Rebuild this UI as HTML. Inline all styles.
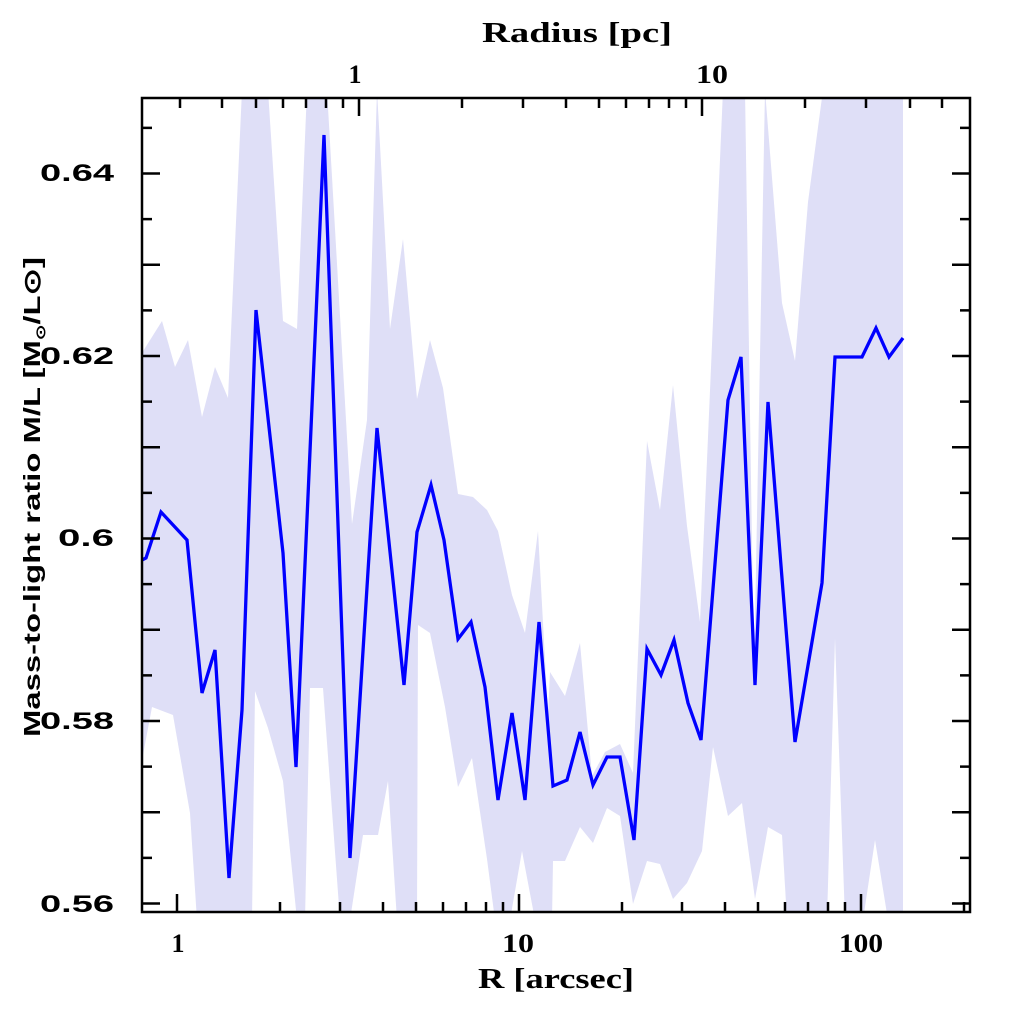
<!DOCTYPE html>
<html><head><meta charset="utf-8"><style>html,body{margin:0;padding:0;background:#fff}svg{display:block}text{font-family:"Liberation Serif",serif;font-weight:bold;fill:#000}.s{font-family:"Liberation Sans",sans-serif}</style></head>
<body>
<svg width="1024" height="1024" viewBox="0 0 1024 1024" xmlns="http://www.w3.org/2000/svg">
<defs><clipPath id="c"><rect x="142" y="98" width="828" height="814"/></clipPath></defs>
<g clip-path="url(#c)">
<polygon fill="#dfdff7" points="140,356 162,321 175,367 188,340 202,417 215,367 228,398 242,90 268,90 283,321 297,329 307,90 327,90 352,524 367,420 377,90 390,329 403,239 417,399 430,340 443,388 458,494 473,497 487,510 498,531 512,595 525,633 538,531 548,715 550,672 565,696 580,643 592,776 605,752 620,744 633,773 647,441 660,510 673,385 687,526 700,622 723,90 745,90 754,675 765,90 782,303 795,361 808,202 823,90 903,90 903,920 888,920 875,840 863,920 845,920 835,638 827,920 787,920 782,835 768,827 755,899 742,803 728,816 713,747 702,851 687,883 673,899 660,864 647,861 633,904 620,816 607,808 593,843 580,827 565,861 553,861 552,920 535,920 522,851 510,920 495,920 487,859 472,758 458,787 445,707 430,633 418,625 417,920 397,920 388,781 378,835 363,835 350,920 340,920 323,688 310,688 305,920 297,920 283,781 268,728 255,691 252,920 197,920 190,813 173,715 152,707 140,771"/>
<polyline fill="none" stroke="#0000ff" stroke-width="3.3" points="142,560 146,558 161,512 187,540 202,693 215,650 229,878 242,710 256,310 283,553 296,767 324,135 350,858 377,428 404,685 417,532 431,485 444,540 458,639 471,622 485,687 498,800 512,713 525,800 539,622 553,786 567,780 580,732 593,785 607,757 620,757 634,840 647,649 661,675 674,640 688,703 701,740 728,400 741,357 755,685 768,402 795,742 822,583 835,357 862,357 876,328 889,357 903,338"/>
</g>
<rect x="142" y="98" width="828" height="814" fill="none" stroke="#000" stroke-width="2.5"/>
<path stroke="#000" stroke-width="2.5" fill="none" d="
M142 903.5h18M970 903.5h-18
M142 857.9h10M970 857.9h-10
M142 812.3h18M970 812.3h-18
M142 766.6h10M970 766.6h-10
M142 721h18M970 721h-18
M142 675.4h10M970 675.4h-10
M142 629.8h18M970 629.8h-18
M142 584.1h10M970 584.1h-10
M142 538.5h18M970 538.5h-18
M142 492.9h10M970 492.9h-10
M142 447.3h18M970 447.3h-18
M142 401.6h10M970 401.6h-10
M142 356h18M970 356h-18
M142 310.4h10M970 310.4h-10
M142 264.8h18M970 264.8h-18
M142 219.1h10M970 219.1h-10
M142 173.5h18M970 173.5h-18
M142 127.9h10M970 127.9h-10
M177 912v-18M280 912v-10M340 912v-10M383 912v-10M416 912v-10M443 912v-10M466 912v-10M486 912v-10M503 912v-10
M519 912v-18M622 912v-10M682 912v-10M725 912v-10M758 912v-10M785 912v-10M808 912v-10M828 912v-10M845 912v-10
M861 912v-18M964 912v-10
M180 98v10M222 98v10M256 98v10M283 98v10M306 98v10M326 98v10M343 98v10M359 98v18
M462 98v10M523 98v10M566 98v10M599 98v10M626 98v10M649 98v10M669 98v10M686 98v10M702 98v18
M805 98v10M866 98v10M910 98v10M942 98v10"/>
<g font-size="24" class="s" text-anchor="end">
<text class="s" x="114" y="181" textLength="74" lengthAdjust="spacingAndGlyphs">0.64</text>
<text class="s" x="114" y="364" textLength="74" lengthAdjust="spacingAndGlyphs">0.62</text>
<text class="s" x="114" y="546" textLength="56" lengthAdjust="spacingAndGlyphs">0.6</text>
<text class="s" x="114" y="729" textLength="74" lengthAdjust="spacingAndGlyphs">0.58</text>
<text class="s" x="114" y="912" textLength="74" lengthAdjust="spacingAndGlyphs">0.56</text>
</g>
<g font-size="26" text-anchor="middle">
<text x="178" y="952">1</text>
<text x="518" y="952" textLength="32" lengthAdjust="spacingAndGlyphs">10</text>
<text x="861" y="952" textLength="44" lengthAdjust="spacingAndGlyphs">100</text>
<text x="355" y="83">1</text>
<text x="712" y="83" textLength="32" lengthAdjust="spacingAndGlyphs">10</text>
<text x="556" y="988" font-size="28" textLength="156" lengthAdjust="spacingAndGlyphs">R [arcsec]</text>
<text x="577" y="42" font-size="28" textLength="190" lengthAdjust="spacingAndGlyphs">Radius [pc]</text>
</g>
<text class="s" transform="translate(40,497) rotate(-90)" font-size="23" text-anchor="middle" textLength="480" lengthAdjust="spacingAndGlyphs">Mass-to-light ratio M/L [M<tspan font-size="13" dy="5">⊙</tspan><tspan dy="-5">/L⊙]</tspan></text>
</svg>
</body></html>
